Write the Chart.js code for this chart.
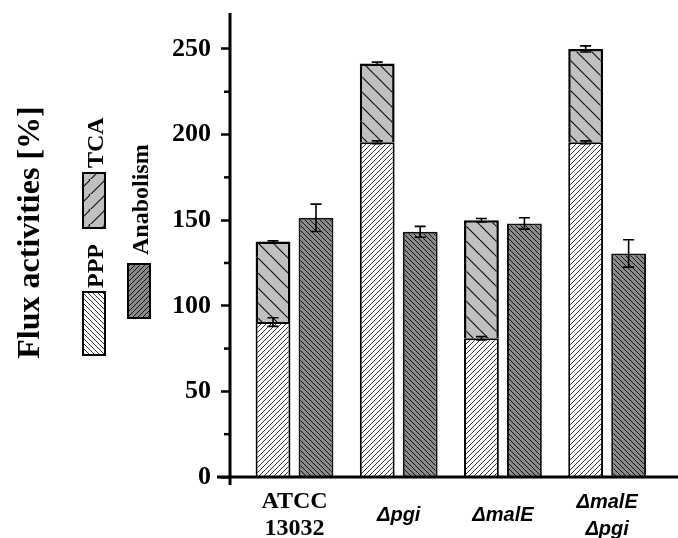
<!DOCTYPE html>
<html>
<head>
<meta charset="utf-8">
<script src="https://cdn.jsdelivr.net/npm/chart.js@4.4.1/dist/chart.umd.min.js"></script>
<style>
  body { margin: 0; background: #fff; }
  #wrap { width: 678px; height: 538px; }
</style>
</head>
<body>
<div id="wrap"><canvas id="chart" width="678" height="538"></canvas></div>
<script>
// data
const categories = [['ATCC', '13032'], 'Δpgi', 'ΔmalE', ['ΔmalE', 'Δpgi']];
const ppp = [90.5, 195.5, 81, 195.5];
const pppErr = [2.5, 0.8, 1, 0.8];
const tca = [47, 46, 69, 54.5];
const tcaErr = [0.5, 0.8, 1, 1.8];
const anabolism = [151.4, 143.2, 148.1, 130.6];
const anabolismErr = [8, 3.2, 3.3, 8];
const yMajorTicks = [0, 50, 100, 150, 200, 250];
const yMinorTicks = [25, 75, 125, 175, 225];
const yMax = 271;

const canvas = document.getElementById('chart');
const ctx = canvas.getContext('2d');

// hatch fill for bars
function hatch(bg, line, step, width, dir) {
    const c = document.createElement('canvas');
    c.width = step;
    c.height = step;
    const g = c.getContext('2d');
    g.fillStyle = bg;
    g.fillRect(0, 0, step, step);
    g.strokeStyle = line;
    g.lineWidth = width;
    g.beginPath();
    for (let k = -step; k <= step; k += step) {
        if (dir === '/') {
            g.moveTo(k, step);
            g.lineTo(k + step, 0);
        } else {
            g.moveTo(k, 0);
            g.lineTo(k + step, step);
        }
    }
    g.stroke();
    return ctx.createPattern(c, 'repeat');
}

const pppFill = hatch('#ffffff', '#333333', 5, 1, '/');
const tcaFill = hatch('#c0c0c0', '#111111', 15, 1.2, '\\');
const anaFill = hatch('#8a8a8a', '#111111', 5, 1, '\\');

const serif = 'Liberation Serif, Times New Roman, serif';
const sans = 'Liberation Sans, Arial, sans-serif';

function points(vals) {
    return vals.map((v, i) => ({ x: i, y: v }));
}

const errorBars = {
    id: 'errorBars',
    afterDatasetsDraw(chart) {
        const c = chart.ctx;
        const y = chart.scales.y;
        const sets = [
            [0, ppp.map(v => v), pppErr],
            [1, ppp.map((v, i) => v + tca[i]), tcaErr],
            [2, anabolism, anabolismErr]
        ];
        c.save();
        c.strokeStyle = '#000';
        c.lineWidth = 1.6;
        sets.forEach(([di, tops, errs]) => {
            chart.getDatasetMeta(di).data.forEach((bar, i) => {
                const hi = y.getPixelForValue(tops[i] + errs[i]);
                const lo = y.getPixelForValue(tops[i] - errs[i]);
                const x = bar.x;
                c.beginPath();
                c.moveTo(x, hi); c.lineTo(x, lo);
                c.moveTo(x - 5.5, hi); c.lineTo(x + 5.5, hi);
                c.moveTo(x - 5.5, lo); c.lineTo(x + 5.5, lo);
                c.stroke();
            });
        });
        c.restore();
    }
};

const decorations = {
    id: 'decorations',
    afterDraw(chart) {
        const c = chart.ctx;
        const a = chart.chartArea;
        const y = chart.scales.y;
        const y0 = y.getPixelForValue(0);
        c.save();
        c.strokeStyle = '#000';
        c.lineWidth = 3;
        c.beginPath();
        c.moveTo(217, y0); c.lineTo(chart.width, y0);
        c.moveTo(a.left, a.top); c.lineTo(a.left, y0 + 8);
        c.stroke();
        c.lineWidth = 2.5;
        yMinorTicks.forEach(v => {
            const p = y.getPixelForValue(v);
            c.beginPath();
            c.moveTo(a.left - 6, p); c.lineTo(a.left, p);
            c.stroke();
        });

        // rotated title and legend (local x goes up, local y goes right)
        c.rotate(-Math.PI / 2);
        c.fillStyle = '#000';
        c.font = 'bold 32px ' + serif;
        c.textAlign = 'center';
        c.textBaseline = 'middle';
        c.fillText('Flux activities [%]', -232.5, 31);

        const ds = chart.data.datasets;
        const items = [
            { d: ds[0], box: [-355, 83, 63, 22], tx: -288, ty: 103 },
            { d: ds[1], box: [-228, 83, 55, 22], tx: -168, ty: 103 },
            { d: ds[2], box: [-318, 128, 54, 22], tx: -255, ty: 148 }
        ];
        c.font = 'bold 24px ' + serif;
        c.textAlign = 'left';
        c.textBaseline = 'alphabetic';
        items.forEach(it => {
            c.fillStyle = it.d.backgroundColor;
            c.fillRect(...it.box);
            c.lineWidth = 2;
            c.strokeStyle = '#000';
            c.strokeRect(...it.box);
            c.fillStyle = '#000';
            c.fillText(it.d.label, it.tx, it.ty);
        });
        c.restore();
    }
};

new Chart(ctx, {
    type: 'bar',
    data: {
        datasets: [
            { label: 'PPP', data: points(ppp), stack: 'flux', backgroundColor: pppFill, borderColor: '#000', borderWidth: 2 },
            { label: 'TCA', data: points(tca), stack: 'flux', backgroundColor: tcaFill, borderColor: '#000', borderWidth: 2.5 },
            { label: 'Anabolism', data: points(anabolism), stack: 'ana', backgroundColor: anaFill, borderColor: '#111', borderWidth: 2 }
        ]
    },
    options: {
        responsive: false,
        animation: false,
        categoryPercentage: 0.825,
        barPercentage: 0.81,
        layout: { autoPadding: false, padding: { top: 13, left: 0, right: 0, bottom: 0 } },
        plugins: { legend: { display: false }, tooltip: { enabled: false } },
        scales: {
            x: {
                type: 'linear',
                offset: false,
                min: -0.619,
                max: 3.68,
                afterBuildTicks: s => { s.ticks = categories.map((_, i) => ({ value: i })); },
                afterFit: s => { s.height = 61; s.paddingLeft = 0; s.paddingRight = 0; },
                grid: { display: false },
                border: { display: false },
                ticks: {
                    padding: 17,
                    color: '#000',
                    crossAlign: 'center',
                    maxRotation: 0,
                    autoSkip: false,
                    callback: v => categories[v],
                    font: c => c.index === 0
                        ? { family: serif, size: 24, weight: 'bold', lineHeight: '27px' }
                        : { family: sans, size: 20, weight: 'bold', style: 'italic', lineHeight: '27px' }
                }
            },
            y: {
                min: 0,
                max: yMax,
                stacked: true,
                afterBuildTicks: s => { s.ticks = yMajorTicks.map(v => ({ value: v })); },
                afterFit: s => { s.width = 230; s.paddingTop = 0; s.paddingBottom = 0; },
                grid: { drawOnChartArea: false, drawTicks: true, tickLength: 9, tickWidth: 2.5, tickColor: '#000' },
                border: { display: false },
                ticks: { padding: 10, color: '#000', font: { family: serif, size: 26, weight: 'bold' } }
            }
        }
    },
    plugins: [errorBars, decorations]
});
</script>
</body>
</html>
